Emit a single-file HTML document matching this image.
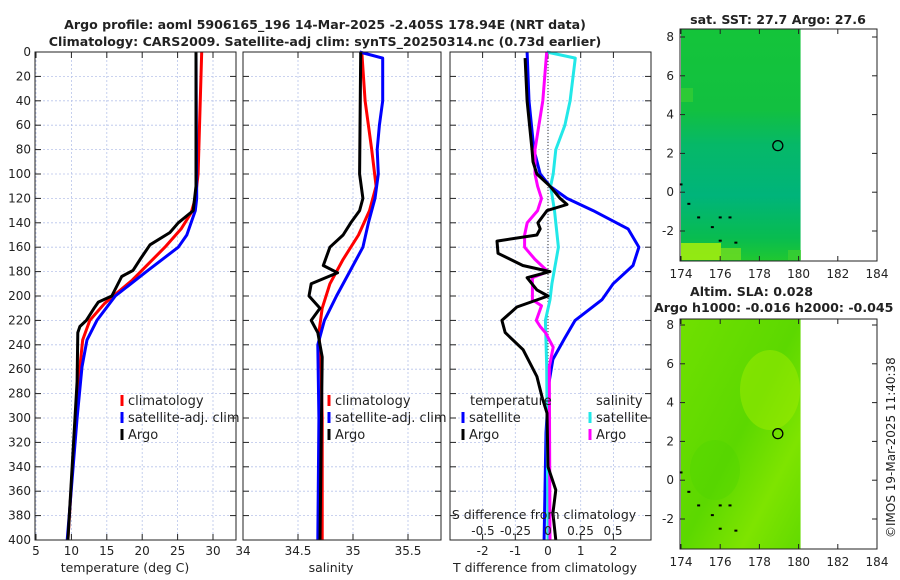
<!DOCTYPE html>
<html><head><meta charset="utf-8">
<style>
body{margin:0;background:#fff;}
svg{display:block;font-family:"DejaVu Sans","Liberation Sans",sans-serif;}
</style></head>
<body>
<svg id="fig" width="900" height="580" viewBox="0 0 900 580" xmlns="http://www.w3.org/2000/svg">
<defs>
<linearGradient id="m1" x1="0" y1="0" x2="0" y2="1">
<stop offset="0" stop-color="#14c43a"/><stop offset="0.35" stop-color="#12c040"/>
<stop offset="0.5" stop-color="#06b868"/><stop offset="0.72" stop-color="#00b47a"/>
<stop offset="0.9" stop-color="#08bc50"/><stop offset="1" stop-color="#20c830"/>
</linearGradient>
<linearGradient id="m2" x1="0" y1="0" x2="1" y2="1">
<stop offset="0" stop-color="#70e000"/><stop offset="0.5" stop-color="#5cd800"/>
<stop offset="0.75" stop-color="#7ee400"/><stop offset="1" stop-color="#62da00"/>
</linearGradient>
</defs>
<g id="g"></g>
</svg>
<script>
// depths (m)
const tClimDepth=[0,100,120,132,145,160,187,206,220,236,258,300,400];
const tClim=[28.4,27.9,27.5,26.9,25.5,23.2,18.6,14.7,12.6,11.6,11.2,10.6,9.5];
const tSatDepth=[0,120,130,150,160,179,200,220,236,258,300,400];
const tSat=[27.6,27.7,27.5,26.3,25.1,20.8,16.2,13.6,12.2,11.5,10.8,9.4];
const tArgoDepth=[0,110,130,140,148,158,170,179,184,200,205,210,220,225,230,270,400];
const tArgo=[27.6,27.6,27.2,25.1,23.9,21.1,19.7,18.7,17.1,15.7,13.8,13.2,12.1,11.2,10.9,10.8,9.5];

const sClimDepth=[0,40,80,110,130,150,170,190,210,230,260,300,400];
const sClim=[35.08,35.11,35.17,35.21,35.15,35.05,34.91,34.79,34.72,34.69,34.71,34.72,34.72];
const sSatDepth=[0,5,40,60,80,100,120,140,160,180,200,220,240,300,400];
const sSat=[35.06,35.27,35.27,35.24,35.22,35.23,35.20,35.14,35.09,34.97,34.85,34.74,34.68,34.69,34.68];
const sArgoDepth=[0,100,120,130,140,150,160,175,181,190,200,210,220,230,250,400];
const sArgo=[35.07,35.06,35.09,35.06,34.98,34.91,34.79,34.73,34.86,34.62,34.60,34.70,34.62,34.68,34.72,34.70];

const dTSatDepth=[0,40,80,100,110,120,130,145,160,175,190,203,220,235,252,271,312,400];
const dTSat=[-0.64,-0.58,-0.43,-0.24,0.06,0.58,1.38,2.45,2.78,2.6,1.99,1.65,0.83,0.5,0.15,0.03,-0.06,-0.12];
const dTArgoDepth=[5,40,80,90,100,110,120,125,130,140,145,150,155,165,175,180,185,195,200,209,220,230,244,266,283,296,340,359,378,400];
const dTArgo=[-0.7,-0.64,-0.49,-0.46,-0.34,0.06,0.37,0.58,-0.03,-0.31,-0.24,-0.34,-1.56,-1.53,-0.77,0.06,-0.64,-0.34,0,-0.95,-1.41,-1.31,-0.76,-0.34,-0.18,-0.03,0,0.24,0.15,0.24];
const dSArgoDepth=[0,40,80,100,110,120,130,140,150,160,170,180,185,203,208,220,225,230,242,258,400];
const dSArgo=[-0.01,-0.04,-0.1,-0.1,-0.08,-0.05,-0.08,-0.16,-0.18,-0.18,-0.1,0,-0.12,-0.12,-0.05,-0.09,-0.06,-0.02,0.04,0.01,0.015];
const dSSatDepth=[0,5,40,60,80,100,110,130,160,190,203,220,258,400];
const dSSat=[-0.01,0.21,0.17,0.13,0.06,0.04,0.02,0.05,0.08,0.03,0.015,-0.02,-0.01,0];

const depthTicks=[0,20,40,60,80,100,120,140,160,180,200,220,240,260,280,300,320,340,360,380,400];
const tTicks=[5,10,15,20,25,30];
const sTicks=[34,34.5,35,35.5];
const dTTicks=[-2,-1,0,1,2];
const dSTickLabels=["-0.5","-0.25","0","0.25","0.5"];
const dSTicks=[-0.5,-0.25,0,0.25,0.5];
const lonTicks=[174,176,178,180,182,184];
const latTicks=[-2,0,2,4,6,8];

const NS="http://www.w3.org/2000/svg";
const G=document.getElementById('g');
function el(tag,attrs,parent){const e=document.createElementNS(NS,tag);for(const k in attrs)e.setAttribute(k,attrs[k]);(parent||G).appendChild(e);return e;}
function txt(x,y,s,attrs,parent){const e=el('text',Object.assign({x:x,y:y,'font-size':12,fill:'#222'},attrs||{}),parent);e.textContent=s;return e;}

const Y0=52,Y1=540;
const yD=d=>Y0+(Y1-Y0)*d/400;
const xT=v=>36+(v-5)*7.08;
const xS=v=>243+(v-34)*110;
const xDT=v=>548+v*32.7;
const xDS=v=>548+v*130;

function panel(name){
  const g=el('g',{});
  
  
  return g;
}
function grid(g,x0,x1,xs){
  xs.forEach(x=>{el('line',{x1:x,x2:x,y1:Y0,y2:Y1,stroke:'#b8c4ea','stroke-width':0.8,'stroke-dasharray':'2,2'},g);});
  depthTicks.forEach(d=>{const y=yD(d);el('line',{x1:x0,x2:x1,y1:y,y2:y,stroke:'#b8c4ea','stroke-width':0.8,'stroke-dasharray':'2,2'},g);
    el('line',{x1:x0,x2:x0+6,y1:y,y2:y,stroke:'#222'},g);el('line',{x1:x1-6,x2:x1,y1:y,y2:y,stroke:'#222'},g);});
  xs.forEach(x=>{el('line',{x1:x,x2:x,y1:Y1,y2:Y1-6,stroke:'#222'},g);el('line',{x1:x,x2:x,y1:Y0,y2:Y0+6,stroke:'#222'},g);});
}
function frame(g,x0,x1){el('rect',{x:x0,y:Y0,width:x1-x0,height:Y1-Y0,fill:'none',stroke:'#222','stroke-width':1},g);}
function line(g,name,ds,vs,fx,color,w){
  const p=ds.map((d,i)=>fx(vs[i]).toFixed(1)+','+yD(d).toFixed(1)).join(' ');
  const e=el('polyline',{points:p,fill:'none',stroke:color,'stroke-width':w||3,'stroke-linejoin':'round'},g);
  
  
}
function legend(g,x,y,color,label,name){
  el('line',{x1:x,x2:x,y1:y-10,y2:y+1,stroke:color,'stroke-width':3},g);
  const t=txt(x+6,y,label,{'font-size':13},g);
  
  
}

let t1=txt(325,29,'Argo profile: aoml 5906165_196 14-Mar-2025 -2.405S 178.94E (NRT data)',{'font-weight':'bold','text-anchor':'middle','font-size':12.6});


let t2=txt(325,46,'Climatology: CARS2009. Satellite-adj clim: synTS_20250314.nc (0.73d earlier)',{'font-weight':'bold','text-anchor':'middle','font-size':12.6});



depthTicks.forEach(d=>{txt(31,yD(d)+4,String(d),{'text-anchor':'end','font-size':12});});

// panel 1
const p1=panel('temperature-panel');
grid(p1,35,236,tTicks.map(xT));
line(p1,'temp-climatology-line',tClimDepth,tClim,xT,'#ff0000');
line(p1,'temp-satellite-line',tSatDepth,tSat,xT,'#0000ff');
line(p1,'temp-argo-line',tArgoDepth,tArgo,xT,'#000000');
frame(p1,35,236);
tTicks.forEach(v=>txt(xT(v),555,String(v),{'text-anchor':'middle','font-size':12},p1));
txt(125,572,'temperature (deg C)',{'text-anchor':'middle','font-size':12.5},p1);
legend(p1,122,405,'#ff0000','climatology','legend-climatology');
legend(p1,122,422,'#0000ff','satellite-adj. clim','legend-satellite');
legend(p1,122,439,'#000000','Argo','legend-argo');

// panel 2
const p2=panel('salinity-panel');
grid(p2,243,441,sTicks.map(xS));
line(p2,'sal-climatology-line',sClimDepth,sClim,xS,'#ff0000');
line(p2,'sal-satellite-line',sSatDepth,sSat,xS,'#0000ff');
line(p2,'sal-argo-line',sArgoDepth,sArgo,xS,'#000000');
frame(p2,243,441);
sTicks.forEach(v=>txt(xS(v),555,String(v),{'text-anchor':'middle','font-size':12},p2));
txt(331,572,'salinity',{'text-anchor':'middle','font-size':12.5},p2);
legend(p2,329,405,'#ff0000','climatology','legend-sal-climatology');
legend(p2,329,422,'#0000ff','satellite-adj. clim','legend-sal-satellite');
legend(p2,329,439,'#000000','Argo','legend-sal-argo');

// panel 3
const p3=panel('difference-panel');
grid(p3,450,651,dTTicks.map(xDT));
el('line',{x1:548,x2:548,y1:Y0,y2:Y1,stroke:'#333','stroke-width':1,'stroke-dasharray':'1,2'},p3);
line(p3,'dT-satellite-line',dTSatDepth,dTSat,xDT,'#0000ff');
line(p3,'dS-satellite-line',dSSatDepth,dSSat,xDS,'#22e8e8');
line(p3,'dS-argo-line',dSArgoDepth,dSArgo,xDS,'#ff00ff');
line(p3,'dT-argo-line',dTArgoDepth,dTArgo,xDT,'#000000');
frame(p3,450,651);
dTTicks.forEach(v=>txt(xDT(v),555,String(v),{'text-anchor':'middle','font-size':12},p3));
txt(545,572,'T difference from climatology',{'text-anchor':'middle','font-size':12.5},p3);
txt(544,519,'S difference from climatology',{'text-anchor':'middle','font-size':12.5},p3);
dSTicks.forEach((v,i)=>txt(xDS(v),535,dSTickLabels[i],{'text-anchor':'middle','font-size':12},p3));
txt(470,405,'temperature',{'font-size':13},p3);
txt(596,405,'salinity',{'font-size':13},p3);
legend(p3,463,422,'#0000ff','satellite','legend-dT-satellite');
legend(p3,463,439,'#000000','Argo','legend-dT-argo');
legend(p3,590,422,'#22e8e8','satellite','legend-dS-satellite');
legend(p3,590,439,'#ff00ff','Argo','legend-dS-argo');

// maps
const MX0=680,MX1=877;
const lonX=l=>681+(l-174)*19.6;
function map(name,top,bot,lat8y,fill){
  const g=el('g',{});
  
  
  const latY=l=>lat8y+(8-l)*19.4;
  el('rect',{x:lonX(174),y:top,width:lonX(180.1)-lonX(174),height:bot-top,fill:fill},g);
  return {g,latY};
}
const m1=map('sst-map',29,261,37,'url(#m1)');
el('rect',{x:681,y:243,width:40,height:17,fill:'#a0ec10',opacity:0.9},m1.g);
el('rect',{x:721,y:248,width:20,height:12,fill:'#70dc20',opacity:0.8},m1.g);
el('rect',{x:681,y:88,width:12,height:14,fill:'#40d030',opacity:0.6},m1.g);
el('rect',{x:788,y:250,width:13,height:10,fill:'#40d030',opacity:0.7},m1.g);
const m2=map('sla-map',319,549,325,'url(#m2)');
el('ellipse',{cx:770,cy:390,rx:30,ry:40,fill:'#a0ec00',opacity:0.5},m2.g);
el('ellipse',{cx:715,cy:470,rx:25,ry:30,fill:'#50d400',opacity:0.4},m2.g);
[[m1,29,261,278,'sat. SST: 27.7 Argo: 27.6',null],[m2,319,549,566,'Altim. SLA: 0.028','Argo h1000: -0.016 h2000: -0.045']].forEach(([m,top,bot,ly,ttl,ttl2])=>{
  const g=m.g;
  el('rect',{x:MX0,y:top,width:MX1-MX0,height:bot-top,fill:'none',stroke:'#222'},g);
  lonTicks.forEach(l=>{const x=lonX(l);el('line',{x1:x,x2:x,y1:bot,y2:bot-5,stroke:'#222'},g);el('line',{x1:x,x2:x,y1:top,y2:top+5,stroke:'#222'},g);txt(x,ly,String(l),{'text-anchor':'middle','font-size':12},g);});
  latTicks.forEach(l=>{const y=m.latY(l);el('line',{x1:MX0,x2:MX0+5,y1:y,y2:y,stroke:'#222'},g);el('line',{x1:MX1-5,x2:MX1,y1:y,y2:y,stroke:'#222'},g);txt(MX0-6,y+4,String(l),{'text-anchor':'end','font-size':12},g);});
  el('circle',{cx:lonX(178.94),cy:m.latY(2.4),r:5,fill:'none',stroke:'#000','stroke-width':1.3},g);
  [[174,0.4],[174.4,-0.6],[174.9,-1.3],[175.6,-1.8],[176,-1.3],[176.5,-1.3],[176,-2.5],[176.8,-2.6]].forEach(p=>{el('rect',{x:lonX(p[0])-1.5,y:m.latY(p[1])-1,width:3,height:2,fill:'#000'},g);});
  if(ttl2){txt(690,296,ttl,{'font-weight':'bold','font-size':12.6},g);txt(654,312,ttl2,{'font-weight':'bold','font-size':12.6},g);}
  else txt(778,24,ttl,{'font-weight':'bold','text-anchor':'middle','font-size':12.6},g);
});

const cr=txt(0,0,'©IMOS 19-Mar-2025 11:40:38',{'font-size':12,transform:'translate(895,538) rotate(-90)'});


</script>
</body></html>
